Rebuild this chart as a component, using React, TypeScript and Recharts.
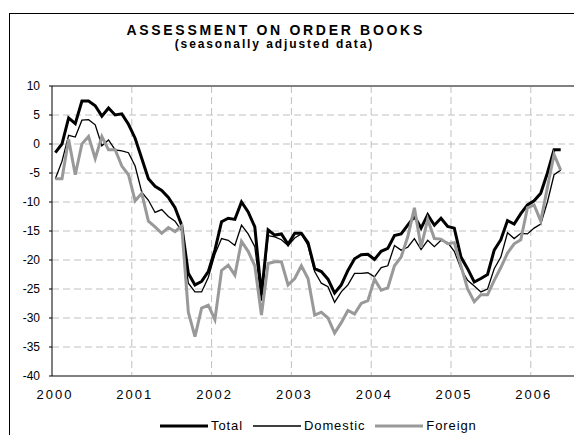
import React from 'react';
import { LineChart, Line, XAxis, YAxis, CartesianGrid, ReferenceLine, Legend } from 'recharts';

const yearLabels = ['2000', '2001', '2002', '2003', '2004', '2005', '2006'];
const yTicks = [-40, -35, -30, -25, -20, -15, -10, -5, 0, 5, 10];
const xTicks = [0, 12, 24, 36, 48, 60, 72];
const seriesOrder = ['total', 'domestic', 'foreign'];

const totalValues = [
  -1.5, 0, 4.5, 3.5, 7.4, 7.4, 6.6, 4.8, 6.2, 5, 5.2, 3.4,
  1, -2.5, -6, -7.3, -8, -9.2, -11, -14, -22.3, -24.3, -23.7, -22,
  -18.3, -13.4, -12.8, -13, -10, -11.7, -14.3, -26, -14.8, -15.7, -15.5, -17.3,
  -15.4, -15.4, -17, -21.5, -22, -23.3, -25.7, -24.3, -21.8, -19.8, -19.1, -19,
  -19.9, -18.5, -18, -15.8, -15.5, -14, -12.5, -14.5, -12.2, -14, -12.8, -14.2,
  -14.5, -19.5, -21.5, -23.8, -23.2, -22.5, -18.3, -16.5, -13.2, -13.8, -12, -10.5,
  -9.8, -8.5, -5, -1, -1,
];

const domesticValues = [
  -6, -3, 1.5, 1.2, 4.1, 4.2, 3.3, -0.3, 0.7, -1, -1.2, -1.5,
  -3.8, -8.3, -9.7, -11.8, -11.3, -12.5, -13.3, -15, -24, -25.5, -25.5, -23,
  -19, -16.3, -16.6, -17.5, -14, -15.5, -17.7, -27, -15.8, -16, -16.5, -17.5,
  -16.2, -15.5, -17.5, -22, -24, -24.6, -27.3, -25.5, -24.3, -22.3, -22.3, -22.2,
  -22.9, -21.3, -21, -17.5, -18.3, -17.8, -16.3, -18.2, -16.6, -17.7, -16.6, -17,
  -18.5, -21.5, -23.5, -24.5, -25.5, -25, -21.5, -19.5, -15.3, -16.3, -15.4, -15.5,
  -14.5, -13.8, -10, -5.3, -4.5,
];

const foreignValues = [
  -6, -6, 0.8, -5.3, 0, 1.3, -2.5, 1.3, -1, -1, -3.8, -5.3,
  -9.8, -8.5, -13.3, -14.3, -15.4, -14.4, -15.1, -14.1, -29, -33.2, -28.3, -27.8,
  -30.3, -21.8, -20.9, -22.6, -16.8, -18.5, -21, -29.5, -20.6, -20.3, -20.3, -24.3,
  -23.2, -21, -23.2, -29.5, -29, -30, -32.6, -30.8, -28.7, -29.3, -27.5, -27,
  -23.3, -25.2, -24.8, -21, -19.5, -16, -11, -17.8, -13, -16.3, -16.4, -17.2,
  -17, -21, -25, -27.2, -26, -26, -23.5, -21.3, -18.8, -17.2, -16.5, -11,
  -10.5, -13.3, -7.5, -1.8, -4.5,
];

const data = totalValues.map((v, i) => ({
  x: i + 0.5,
  total: v,
  domestic: domesticValues[i],
  foreign: foreignValues[i],
}));

const FONT = '"Liberation Sans", Arial, Helvetica, sans-serif';

const seriesStyle: Record<string, { color: string; width: number }> = {
  total: { color: '#000000', width: 3 },
  domestic: { color: '#000000', width: 1.3 },
  foreign: { color: '#999999', width: 3 },
};

const XTick = (props: any) => {
  const { x, y, payload } = props;
  const idx = Math.round(payload.value / 12);
  return (
    <text
      x={x + 3}
      y={y}
      dy="0.71em"
      textAnchor="middle"
      fontFamily={FONT}
      fontSize={13}
      letterSpacing={2}
      fill="#000"
    >
      {yearLabels[idx]}
    </text>
  );
};

const renderLegend = (props: any) => {
  const payload = [...(props.payload || [])].sort(
    (a: any, b: any) => seriesOrder.indexOf(a.dataKey) - seriesOrder.indexOf(b.dataKey)
  );
  return (
    <div
      style={{
        display: 'flex',
        alignItems: 'center',
        paddingLeft: 160,
        fontFamily: FONT,
        fontSize: 13,
        letterSpacing: 0.9,
        color: '#000',
        lineHeight: '16px',
      }}
    >
      {payload.map((p: any, i: number) => {
        const st = seriesStyle[p.dataKey] || { color: p.color, width: 2 };
        return (
          <div key={i} style={{ display: 'flex', alignItems: 'center', marginRight: 10 }}>
            <svg width={48} height={10} style={{ display: 'block' }}>
              <line x1={0} y1={5} x2={48} y2={5} stroke={st.color} strokeWidth={st.width} />
            </svg>
            <span style={{ marginLeft: 3 }}>{p.value}</span>
          </div>
        );
      })}
    </div>
  );
};

export default function App() {
  return (
    <div
      style={{
        position: 'absolute',
        left: 0,
        top: 0,
        width: 574,
        height: 435,
        overflow: 'hidden',
        background: '#fff',
      }}
    >
      <div
        style={{
          position: 'absolute',
          left: 9,
          top: 13,
          width: 700,
          height: 600,
          borderLeft: '1px solid #000',
          borderTop: '1px solid #000',
        }}
      />
      <div
        style={{
          position: 'absolute',
          left: 0,
          top: 22,
          width: 546,
          textAlign: 'center',
          fontFamily: FONT,
          fontWeight: 'bold',
          fontSize: 14,
          letterSpacing: 2.7,
          lineHeight: '16px',
          color: '#000',
          paddingLeft: 2.7,
        }}
      >
        ASSESSMENT ON ORDER BOOKS
      </div>
      <div
        style={{
          position: 'absolute',
          left: 0,
          top: 37,
          width: 545,
          textAlign: 'center',
          fontFamily: FONT,
          fontWeight: 'bold',
          fontSize: 12,
          letterSpacing: 1.9,
          lineHeight: '14px',
          color: '#000',
          paddingLeft: 1.9,
        }}
      >
        (seasonally adjusted data)
      </div>
      <div style={{ position: 'absolute', left: 0, top: 0 }}>
        <LineChart
          width={574}
          height={435}
          data={data}
          margin={{ top: 86, right: 0, left: 10, bottom: 29 }}
        >
          <CartesianGrid
            stroke="#c0c0c0"
            strokeDasharray="7 4"
            verticalValues={xTicks.slice(1)}
            horizontalValues={yTicks.slice(1, -1)}
          />
          <XAxis
            type="number"
            dataKey="x"
            domain={[0, 78.5]}
            ticks={xTicks}
            allowDataOverflow
            height={30}
            axisLine={{ stroke: '#808080', strokeWidth: 2 }}
            tickLine={false}
            tickSize={0}
            tickMargin={14}
            tick={<XTick />}
            interval={0}
          />
          <YAxis
            type="number"
            domain={[-40, 10]}
            ticks={yTicks}
            width={42}
            interval={0}
            axisLine={{ stroke: '#000', strokeWidth: 1 }}
            tickLine={{ stroke: '#000' }}
            tickSize={3}
            tickMargin={9}
            tick={{ fontFamily: FONT, fontSize: 12, fill: '#000' }}
          />
          <ReferenceLine y={10} stroke="#808080" strokeWidth={2} />
          <Legend
            layout="horizontal"
            verticalAlign="middle"
            align="center"
            content={renderLegend}
            wrapperStyle={{ top: 418, left: 0, width: 574 }}
          />
          <Line
            type="linear"
            dataKey="total"
            name="Total"
            stroke="#000000"
            strokeWidth={3}
            dot={false}
            isAnimationActive={false}
          />
          <Line
            type="linear"
            dataKey="domestic"
            name="Domestic"
            stroke="#000000"
            strokeWidth={1.3}
            dot={false}
            isAnimationActive={false}
          />
          <Line
            type="linear"
            dataKey="foreign"
            name="Foreign"
            stroke="#999999"
            strokeWidth={3}
            dot={false}
            isAnimationActive={false}
          />
        </LineChart>
      </div>
    </div>
  );
}
